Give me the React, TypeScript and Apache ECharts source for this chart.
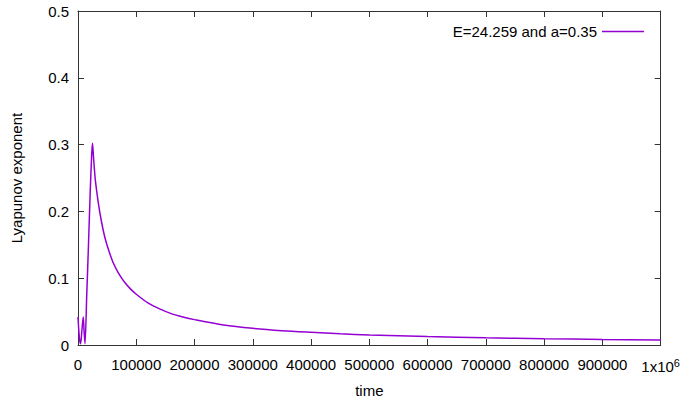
import React, { useEffect, useRef } from "react";
import * as echarts from "echarts";

const times = [0, 2500, 4500, 6500, 9000, 10500, 12000, 15000, 18000, 21000, 23500, 24900, 26500, 28000, 30000, 35000, 40000, 45000, 50000, 60000, 70000, 80000, 90000, 100000, 120000, 140000, 160000, 180000, 200000, 250000, 300000, 350000, 400000, 450000, 500000, 600000, 700000, 800000, 900000, 1000000];
const lyapunov = [0.042, 0.01, 0.002, 0.02, 0.042, 0.02, 0.002, 0.075, 0.15, 0.23, 0.285, 0.302, 0.283, 0.265, 0.245, 0.212, 0.186, 0.165, 0.149, 0.124, 0.107, 0.094, 0.084, 0.076, 0.063, 0.054, 0.047, 0.042, 0.038, 0.030, 0.025, 0.0215, 0.019, 0.0168, 0.015, 0.0126, 0.0108, 0.0095, 0.0084, 0.0076];
const seriesName = "E=24.259 and a=0.35";
const FONT = "Liberation Sans";

export default function App() {
  const ref = useRef<HTMLDivElement>(null);
  useEffect(() => {
    if (!ref.current) return;
    const chart = echarts.init(ref.current, null, { renderer: "svg" });
    const axisLine = { show: true, onZero: false, lineStyle: { color: "#333", width: 1 } };
    const tick = { show: true, inside: true, length: 6, lineStyle: { color: "#333" } };
    chart.setOption({
      animation: false,
      backgroundColor: "#fff",
      textStyle: { fontFamily: FONT },
      grid: { left: 78, right: 22, top: 11, bottom: 58, containLabel: false },
      legend: {
        right: 34,
        top: 19,
        align: "right",
        itemWidth: 42,
        itemHeight: 1.5,
        icon: "rect",
        textStyle: { fontFamily: FONT, fontSize: 15, color: "#000" },
        data: [{ name: seriesName }],
      },
      xAxis: [
        {
          type: "value",
          min: 0,
          max: 1000000,
          interval: 100000,
          position: "bottom",
          name: "time",
          nameLocation: "middle",
          nameGap: 38,
          nameTextStyle: { fontFamily: FONT, fontSize: 15, color: "#000" },
          axisLine,
          axisTick: tick,
          splitLine: { show: false },
          axisLabel: {
            fontFamily: FONT,
            fontSize: 15,
            color: "#000",
            margin: 12,
            formatter: (v: number) => (v === 1000000 ? "{a|1x10}{s|6}" : String(v)),
            rich: {
              a: { fontFamily: FONT, fontSize: 15, color: "#000" },
              s: { fontFamily: FONT, fontSize: 11, color: "#000", verticalAlign: "top", padding: [0, 0, 8, 0] },
            },
          },
        },
        {
          type: "value",
          min: 0,
          max: 1000000,
          interval: 100000,
          position: "top",
          axisLine,
          axisTick: tick,
          axisLabel: { show: false },
          splitLine: { show: false },
        },
      ],
      yAxis: [
        {
          type: "value",
          min: 0,
          max: 0.5,
          interval: 0.1,
          position: "left",
          name: "Lyapunov exponent",
          nameLocation: "middle",
          nameGap: 54,
          nameTextStyle: { fontFamily: FONT, fontSize: 15, color: "#000" },
          axisLine,
          axisTick: tick,
          splitLine: { show: false },
          axisLabel: { fontFamily: FONT, fontSize: 15, color: "#000", margin: 9, formatter: (v: number) => String(+v.toFixed(1)) },
        },
        {
          type: "value",
          min: 0,
          max: 0.5,
          interval: 0.1,
          position: "right",
          axisLine,
          axisTick: tick,
          axisLabel: { show: false },
          splitLine: { show: false },
        },
      ],
      series: [
        {
          name: seriesName,
          type: "line",
          data: times.map((t, i) => [t, lyapunov[i]]),
          showSymbol: false,
          symbol: "none",
          smooth: 0.3,
          lineStyle: { color: "#9400d3", width: 1.5 },
          itemStyle: { color: "#9400d3" },
        },
      ],
    });
    return () => chart.dispose();
  }, []);
  return <div ref={ref} style={{ width: 683, height: 403, position: "absolute", left: 0, top: 0 }} />;
}
